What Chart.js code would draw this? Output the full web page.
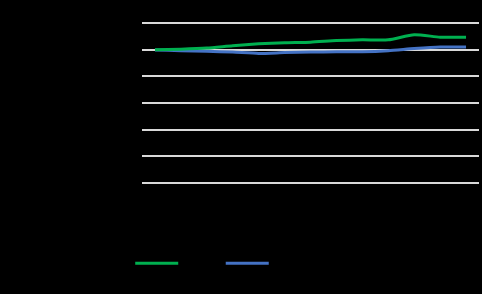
<!DOCTYPE html>
<html>
<head>
<meta charset="utf-8">
<script src="https://cdn.jsdelivr.net/npm/chart.js@4"></script>
<style>
  html, body { margin: 0; padding: 0; background: #000; }
  #wrap { width: 482px; height: 294px; }
</style>
</head>
<body>
<div id="wrap"><canvas id="line-chart"></canvas></div>
<script>
// chart data
const categories = ['2010', '2011', '2012', '2013', '2014', '2015', '2016',
                    '2017', '2018', '2019', '2020', '2021', '2022'];
const fundValues = [0, 0.2, 0.6, 1.5, 2.2, 2.6, 2.8, 3.4, 3.7, 3.7, 5.6, 4.7, 4.7];
const benchValues = [-0.1, -0.4, -0.6, -0.9, -1.4, -1.1, -0.9, -0.8, -0.8, -0.4, 0.4, 1.0, 1.0];
const seriesNames = ['Fund', 'Benchmark'];
const yTicks = [10, 0, -10, -20, -30, -40, -50];

const chartCanvas = document.querySelector('#line-chart');

const lineChart = new Chart(chartCanvas, {
   type: 'line',
   data: {
      labels: categories,
      datasets: [
         {
            label: seriesNames[0],
            data: fundValues,
            borderColor: '#00B050',
            backgroundColor: '#00B050',
            borderWidth: 3,
            pointRadius: 0,
            tension: 0.2,
         },
         {
            label: seriesNames[1],
            data: benchValues,
            borderColor: '#4472C4',
            backgroundColor: '#4472C4',
            borderWidth: 3,
            pointRadius: 0,
            tension: 0.2,
         },
      ],
   },
   options: {
      responsive: true,
      maintainAspectRatio: false,
      animation: false,
      layout: {
         padding: { top: 23, right: 3, bottom: 14, left: 0 },
      },
      plugins: {
         tooltip: { enabled: false },
         legend: {
            position: 'bottom',
            labels: {
               color: '#000',
               boxWidth: 43,
               boxHeight: 3,
               padding: 10,
               font: { size: 13.5, family: 'Liberation Sans' },
               // plain bars, no outline round the legend boxes
               generateLabels: function (chart) {
                  const items = Chart.defaults.plugins.legend.labels.generateLabels(chart);
                  items.forEach(function (item) { item.lineWidth = 0; });
                  return items;
               },
            },
         },
      },
      scales: {
         x: {
            offset: true,
            grid: { display: false },
            border: { display: false },
            ticks: { color: '#000', font: { size: 12 } },
            afterFit: function (scale) { scale.height = 63.5; },
         },
         y: {
            min: -50,
            max: 10,
            afterBuildTicks: function (scale) {
               scale.ticks = yTicks.map(function (v) { return { value: v }; });
            },
            grid: { color: '#d9d9d9', lineWidth: 2, drawTicks: false },
            border: { display: false },
            ticks: {
               color: '#000',
               font: { size: 12 },
               callback: function (value) { return value + '%'; },
            },
            afterFit: function (scale) { scale.width = 142; },
         },
      },
   },
});
</script>
</body>
</html>
